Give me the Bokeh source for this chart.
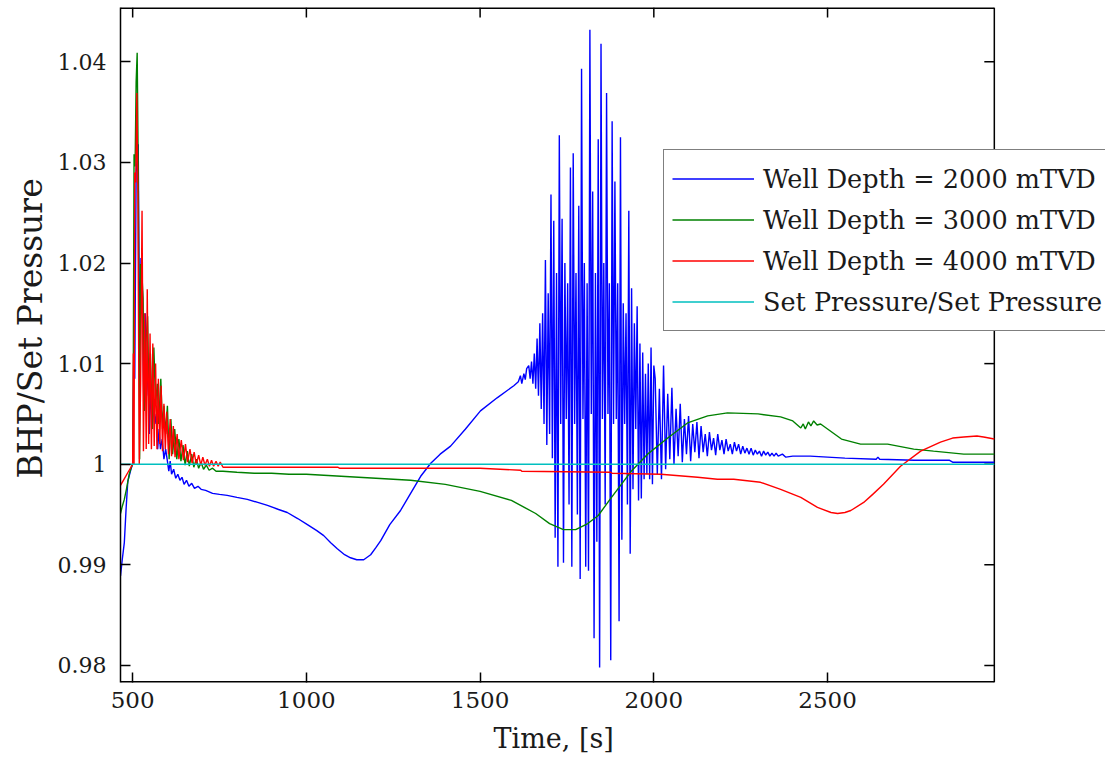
from math import pi
from bokeh.plotting import figure
from bokeh.models import Range1d, FixedTicker, Legend, LegendItem, Title
from bokeh.embed import file_html
from bokeh.resources import INLINE

# ---------------- data ----------------
x_ticks = [500, 1000, 1500, 2000, 2500]
y_ticks = [0.98, 0.99, 1.0, 1.01, 1.02, 1.03, 1.04]
y_tick_labels = {0.98: "0.98", 0.99: "0.99", 1.0: "1", 1.01: "1.01", 1.02: "1.02", 1.03: "1.03", 1.04: "1.04"}
x_label = "Time, [s]"
y_label = "BHP/Set Pressure"

labels = ["Well Depth = 2000 mTVD", "Well Depth = 3000 mTVD",
          "Well Depth = 4000 mTVD", "Set Pressure/Set Pressure"]

# Well depth 2000 m (blue)
blue_t_a = [465, 470, 476, 481, 486, 495, 500, 503, 506, 510, 516, 520, 524, 528, 532, 536, 540, 544,
            548, 552, 556, 560, 564, 568, 572, 576, 580, 585, 590, 595, 600, 604, 608, 612, 618, 624,
            630, 636, 642, 648, 655, 662, 670, 678, 688, 697, 710, 730, 750, 772, 800, 830, 860, 888,
            920, 945, 975, 1003, 1030, 1050, 1070, 1089, 1110, 1127, 1145, 1165, 1185, 1200, 1214,
            1240, 1271, 1300, 1329, 1358, 1385, 1415, 1458, 1501, 1549, 1597, 1610, 1616, 1620, 1626,
            1630, 1634]
blue_v_a = [0.9889, 0.9905, 0.9922, 0.9955, 0.9983, 0.9995, 1.0000, 1.0105, 1.0085, 1.0290, 1.0318,
            1.0120, 1.0205, 1.0172, 1.0060, 1.0150, 1.0068, 1.0105, 1.0030, 1.0080, 1.0035, 1.0060,
            1.0040, 1.0050, 1.0015, 1.0035, 1.0015, 1.0025, 1.0005, 1.0015, 1.0003, 0.9993, 1.0003,
            0.9990, 0.9995, 0.9986, 0.9990, 0.9984, 0.9987, 0.9980, 0.9984, 0.9978, 0.9981, 0.9976,
            0.9978, 0.9975, 0.9974, 0.9971, 0.9970, 0.9969, 0.9967, 0.9965, 0.9962, 0.9959, 0.9955,
            0.9952, 0.9946, 0.9940, 0.9934, 0.9929, 0.9922, 0.9916, 0.9910, 0.9907, 0.9905, 0.9905,
            0.9910, 0.9917, 0.9924, 0.9940, 0.9954, 0.9971, 0.9988, 1.0001, 1.0010, 1.0018, 1.0035,
            1.0053, 1.0066, 1.0078, 1.0082, 1.0088, 1.0080, 1.0090, 1.0084, 1.0095]
# strong oscillation, sampled every 4 s from 1640 s to 2000 s
blue_t_b = list(range(1640, 2001, 4))
blue_v_b = [1.0098, 1.0085, 1.0102, 1.0080, 1.0110, 1.0075, 1.0125, 1.0068, 1.0140, 1.0055,
            1.0150, 1.0040, 1.0203, 1.0019, 1.0170, 1.0030, 1.0268, 1.0006, 1.0242, 0.9927,
            1.0190, 0.9898, 1.0327, 1.0040, 1.0244, 0.9902, 1.0200, 1.0045, 1.0180, 0.9960,
            1.0295, 0.9898, 1.0309, 1.0040, 1.0190, 0.9950, 1.0257, 0.9886, 1.0393, 1.0045,
            1.0200, 0.9898, 1.0180, 0.9894, 1.0432, 1.0050, 1.0271, 0.9827, 1.0190, 0.9923,
            1.0323, 0.9798, 1.0418, 1.0045, 1.0200, 0.9960, 1.0369, 1.0050, 1.0180, 0.9805,
            1.0341, 1.0040, 1.0281, 1.0045, 1.0180, 0.9844, 1.0325, 0.9925, 1.0160, 1.0040,
            1.0150, 0.9960, 1.0252, 0.9911, 1.0175, 0.9975, 1.0140, 1.0035, 1.0157, 0.9964,
            1.0120, 0.9966, 1.0111, 0.9985, 1.0090, 0.9990, 1.0100, 0.9985, 1.0116, 0.9980,
            1.0098]
# decaying oscillation, sampled every 6 s from 2004 s to 2358 s
blue_t_c = list(range(2004, 2359, 6))
blue_v_c = [1.0085, 0.9990, 1.0075, 0.9985, 1.0098, 0.9995, 1.0070, 1.0005, 1.0076, 1.0000,
            1.0055, 1.0008, 1.0060, 1.0002, 1.0045, 1.0010, 1.0048, 1.0003, 1.0040, 1.0012,
            1.0042, 1.0006, 1.0038, 1.0012, 1.0030, 1.0008, 1.0032, 1.0014, 1.0026, 1.0009,
            1.0030, 1.0014, 1.0024, 1.0010, 1.0025, 1.0013, 1.0020, 1.0010, 1.0022, 1.0013,
            1.0020, 1.0010, 1.0018, 1.0011, 1.0016, 1.0010, 1.0016, 1.0009, 1.0014, 1.0010,
            1.0013, 1.0008, 1.0013, 1.0009, 1.0012, 1.0008, 1.0011, 1.0008, 1.0011, 1.0008]
blue_t_d = [2370, 2380, 2400, 2450, 2500, 2550, 2640, 2645, 2650, 2750, 2850, 2860, 2980]
blue_v_d = [1.0010, 1.0007, 1.0008, 1.0008, 1.0007, 1.0006, 1.0005, 1.0007, 1.0005, 1.0004,
            1.0004, 1.0002, 1.0002]

# Well depth 3000 m (green)
green_t = [465, 470, 476, 482, 490, 497, 501, 504, 507, 510, 513, 516, 520, 523, 527, 530, 534, 538,
           543, 547, 551, 557, 561, 566, 571, 575, 581, 586, 590, 595, 600, 605, 610, 615, 621, 627,
           633, 639, 645, 651, 657, 663, 670, 676, 683, 690, 697, 704, 712, 720, 730, 740, 760, 800,
           850, 900, 950, 1000, 1050, 1100, 1200, 1300, 1400, 1500, 1590, 1660, 1700, 1740, 1775,
           1810, 1840, 1876, 1913, 1935, 1982, 2040, 2097, 2155, 2212, 2300, 2365, 2400, 2423, 2430,
           2436, 2445, 2452, 2460, 2470, 2480, 2500, 2540, 2595, 2673, 2748, 2805, 2892, 2980]
green_v = [0.9951, 0.9958, 0.9965, 0.9975, 0.9990, 0.9998, 1.0000, 1.0308, 1.0296, 1.0380, 1.0409,
           1.0296, 1.0005, 1.0199, 1.0186, 1.0165, 1.0053, 1.0120, 1.0147, 1.0060, 1.0110, 1.0035,
           1.0116, 1.0060, 1.0080, 1.0040, 1.0085, 1.0035, 1.0058, 1.0030, 1.0058, 1.0005, 1.0045,
           1.0010, 1.0035, 1.0005, 1.0025, 1.0003, 1.0019, 0.9999, 1.0013, 0.9998, 1.0010, 0.9997,
           1.0005, 0.9996, 1.0002, 0.9995, 0.9999, 0.9994, 0.9996, 0.9993, 0.9993, 0.9992, 0.9991,
           0.9991, 0.9990, 0.9990, 0.9989, 0.9988, 0.9986, 0.9984, 0.9980, 0.9973, 0.9964, 0.9951,
           0.9941, 0.9935, 0.9935, 0.9941, 0.9949, 0.9966, 0.9983, 0.9993, 1.0010, 1.0026, 1.0041,
           1.0048, 1.0051, 1.0050, 1.0047, 1.0043, 1.0036, 1.0040, 1.0035, 1.0042, 1.0038, 1.0043,
           1.0039, 1.0040, 1.0035, 1.0025, 1.0020, 1.0020, 1.0015, 1.0013, 1.0010, 1.0010]

# Well depth 4000 m (red)
red_t = [465, 475, 485, 495, 500, 502, 504, 506, 509, 512, 515, 519, 523, 527, 531, 535, 539, 542,
         546, 550, 554, 558, 562, 566, 570, 574, 578, 582, 586, 590, 594, 598, 603, 608, 612, 617,
         622, 628, 633, 640, 646, 652, 658, 665, 671, 677, 683, 690, 696, 702, 708, 715, 721, 727,
         733, 740, 746, 752, 760, 800, 1090, 1095, 1500, 1617, 1620, 1876, 1880, 2020, 2126, 2183,
         2230, 2307, 2365, 2423, 2471, 2510, 2529, 2550, 2567, 2604, 2630, 2661, 2710, 2768, 2825,
         2860, 2892, 2930, 2949, 2980]
red_v = [0.9979, 0.9985, 0.9991, 0.9997, 1.0000, 1.0110, 1.0000, 1.0290, 1.0280, 1.0369, 1.0270,
         1.0000, 1.0080, 1.0252, 1.0013, 1.0150, 1.0015, 1.0174, 1.0020, 1.0130, 1.0015, 1.0120,
         1.0018, 1.0100, 1.0015, 1.0085, 1.0020, 1.0078, 1.0013, 1.0060, 1.0015, 1.0052, 1.0010,
         1.0045, 1.0008, 1.0038, 1.0007, 1.0030, 1.0005, 1.0024, 1.0004, 1.0020, 1.0002, 1.0015,
         1.0001, 1.0012, 1.0000, 1.0009, 0.9999, 1.0007, 0.9999, 1.0005, 0.9998, 1.0004, 0.9998,
         1.0003, 0.9998, 1.0002, 0.9997, 0.9997, 0.9997, 0.9996, 0.9996, 0.9994, 0.9993, 0.9992,
         0.9991, 0.9990, 0.9987, 0.9985, 0.9985, 0.9982, 0.9975, 0.9967, 0.9957, 0.9952, 0.9951,
         0.9952, 0.9954, 0.9962, 0.9970, 0.9980, 0.9998, 1.0013, 1.0022, 1.0026, 1.0027, 1.0028,
         1.0027, 1.0025]

# Set pressure / set pressure (cyan)
set_t = [465, 2980]
set_v = [1.0, 1.0]

# ---------------- figure ----------------
FONT = "DejaVu Serif"
TXT = "#1a1a1a"
X_MIN, X_MAX = 465, 2980          # axes box limits (data units)
Y_MIN, Y_MAX = 0.9783, 1.0454
VIEW_END = 3300                   # the plotting area runs on past the axes box so the legend can overhang it

p = figure(width=1105, height=765, output_backend="svg", toolbar_location=None,
           x_range=Range1d(X_MIN, VIEW_END), y_range=Range1d(Y_MIN, Y_MAX),
           min_border_left=120, min_border_right=0, min_border_top=7, min_border_bottom=83)
p.background_fill_color = "white"
p.border_fill_color = "white"
p.outline_line_color = None
p.xgrid.visible = False
p.ygrid.visible = False

xa = p.xaxis[0]
xa.ticker = FixedTicker(ticks=x_ticks)
ya = p.yaxis[0]
ya.ticker = FixedTicker(ticks=y_ticks)
ya.major_label_overrides = y_tick_labels

for ax in (xa, ya):
    ax.major_tick_in = 10
    ax.major_tick_out = 0
    ax.minor_tick_in = 0
    ax.minor_tick_out = 0
    ax.axis_line_color = "black"
    ax.axis_line_width = 1.5
    ax.major_tick_line_color = "black"
    ax.major_tick_line_width = 1.5
    ax.major_label_text_font = FONT
    ax.major_label_text_color = TXT
xa.major_label_text_font_size = "23px"
ya.major_label_text_font_size = "22px"
xa.axis_line_color = None
xa.major_label_standoff = 9
ya.major_label_standoff = 14

# axis titles placed as titles so they can be centred on the axes box, not on the wider plotting area
p.add_layout(Title(text=x_label, align="left", offset=373, standoff=21, text_font=FONT,
                   text_font_size="27px", text_font_style="normal", text_color=TXT,
                   text_line_height=0.8), "below")
p.add_layout(Title(text=y_label, align="left", offset=204, standoff=6, text_font=FONT,
                   text_font_size="33px", text_font_style="normal", text_color=TXT,
                   vertical_align="top"), "left")

# axes box (bottom, top, right) and the mirrored ticks on top and right
p.segment(x0=[X_MIN, X_MIN], y0=[Y_MIN, Y_MAX], x1=[X_MAX, X_MAX], y1=[Y_MIN, Y_MAX],
          line_color="black", line_width=3)
p.segment(x0=[X_MAX], y0=[Y_MIN], x1=[X_MAX], y1=[Y_MAX], line_color="black", line_width=1.5)
p.ray(x=x_ticks, y=[Y_MAX] * len(x_ticks), length=10, length_units="screen", angle=-pi / 2,
      line_color="black", line_width=1.5)
p.ray(x=[X_MAX] * len(y_ticks), y=y_ticks, length=10, length_units="screen", angle=pi,
      line_color="black", line_width=1.5)

LW = 1.4
r_blue = p.line(blue_t_a + blue_t_b + blue_t_c + blue_t_d,
                blue_v_a + blue_v_b + blue_v_c + blue_v_d, line_color="#0000ff", line_width=LW)
r_green = p.line(green_t, green_v, line_color="#008000", line_width=LW)
r_red = p.line(red_t, red_v, line_color="#ff0000", line_width=LW)
r_set = p.line(set_t, set_v, line_color="#00bfbf", line_width=LW)

legend = Legend(items=[LegendItem(label=labels[0], renderers=[r_blue]),
                       LegendItem(label=labels[1], renderers=[r_green]),
                       LegendItem(label=labels[2], renderers=[r_red]),
                       LegendItem(label=labels[3], renderers=[r_set])],
                location=(543, 351), padding=8, spacing=0, margin=0,
                glyph_width=82, glyph_height=41, label_height=41, label_standoff=9,
                label_text_font=FONT, label_text_font_size="25.5px", label_text_color=TXT,
                border_line_color="black", border_line_width=1.5,
                background_fill_color="white", background_fill_alpha=1.0)
p.add_layout(legend)

open("out.html", "w").write(file_html(p, INLINE))
